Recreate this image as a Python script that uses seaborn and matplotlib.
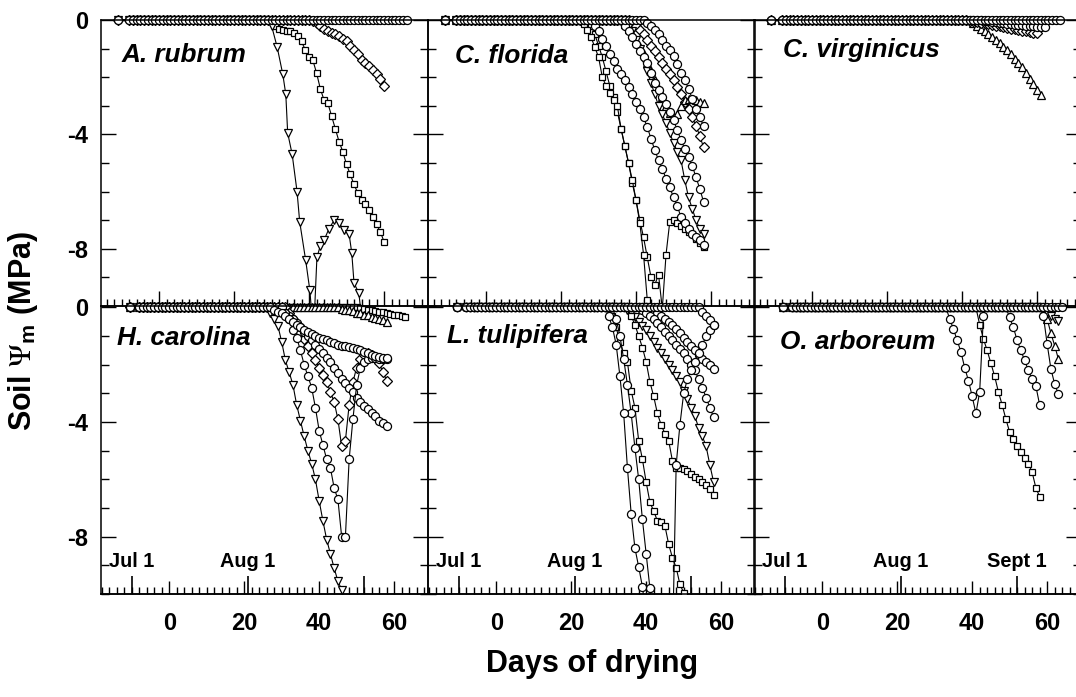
import matplotlib
matplotlib.use("Agg")
import matplotlib.pyplot as plt
import seaborn as sns
from matplotlib.ticker import FixedLocator, MultipleLocator
from matplotlib.transforms import Bbox, TransformedBbox

# ---------------- data (days of drying, soil water potential in MPa) ----------------
SPECIES = ["A. rubrum", "C. florida", "C. virginicus",
           "H. carolina", "L. tulipifera", "O. arboreum"]
X_TICKS = [0, 20, 40, 60]
X_TICK_LABELS = ["0", "20", "40", "60"]
Y_TICKS = [0, -4, -8]
Y_TICK_LABELS = ["0", "-4", "-8"]
DATE_LABELS = ["Jul 1", "Aug 1", "Sept 1"]
DATE_DAYS = [-10, 21, 52]

# --- A. rubrum (top row) ---
RUB_CIRC_END = 66
RUB_DIAM_ONSET = 40
RUB_DIAM_DAYS = list(range(41, 61))
RUB_DIAM_VALS = [-0.05, -0.1, -0.2, -0.3, -0.4, -0.45, -0.5, -0.55, -0.65, -0.75,
                 -0.9, -1.05, -1.2, -1.4, -1.5, -1.6, -1.75, -1.9, -2.05, -2.3]
RUB_SQ_ONSET = 30
RUB_SQ_DAYS = list(range(31, 61))
RUB_SQ_VALS = [-0.2, -0.3, -0.35, -0.37, -0.4, -0.45, -0.55, -0.75, -1.05, -1.3,
               -1.4, -1.85, -2.4, -2.8, -2.9, -3.35, -3.8, -4.25, -4.6, -5.05,
               -5.4, -5.75, -6.05, -6.3, -6.45, -6.65, -6.9, -7.15, -7.4, -7.75]
RUB_TRI_ONSET = 29
RUB_TRI_DAYS = [30, 31.5, 33, 33.8, 34.3, 35.5, 36.8, 37.5, 39.1, 40.2, 41.2, 42.1,
                43.0, 44.0, 45.3, 46.7, 48.0, 49.3, 50.7, 51.4, 52.0, 53.3, 54.3]
RUB_TRI_VALS = [-0.2, -0.95, -1.9, -2.6, -3.95, -4.7, -6.0, -7.05, -8.4, -9.44, -11.0, -8.3,
                -7.9, -7.7, -7.3, -7.0, -7.1, -7.35, -7.5, -8.15, -9.2, -9.55, -10.8]

# --- C. florida (top row) ---
CFL_SQA_ONSET = 25
CFL_SQA_DAYS = list(range(26, 45))
CFL_SQA_VALS = [-0.15, -0.35, -0.6, -0.95, -1.3, -2.0, -2.3, -2.55, -2.8, -3.0,
                -3.8, -4.4, -5.0, -5.6, -6.3, -7.1, -8.2, -9.8, -11.5]
CFL_SQB_ONSET = 27
CFL_SQB_DAYS = list(range(28, 59))
CFL_SQB_VALS = [-0.2, -0.5, -0.9, -1.3, -1.8, -2.3, -2.7, -3.2, -3.8, -4.4, -5.0,
                -5.7, -6.3, -7.0, -7.6, -8.3, -9.0, -9.26, -8.9, -10.1, -8.2, -7.05,
                -7.0, -7.1, -7.2, -7.3, -7.4, -7.5, -7.65, -7.8, -7.95]
CFL_CA_ONSET = 28
CFL_CA_DAYS = list(range(29, 59))
CFL_CA_VALS = [-0.2, -0.4, -0.65, -0.9, -1.2, -1.45, -1.7, -1.9, -2.1, -2.35, -2.6,
               -2.85, -3.1, -3.4, -3.75, -4.15, -4.55, -4.9, -5.2, -5.55, -5.85, -6.2,
               -6.5, -6.9, -7.1, -7.3, -7.5, -7.6, -7.7, -7.85]
CFL_CB_ONSET = 36
CFL_CB_DAYS = list(range(37, 59))
CFL_CB_VALS = [-0.2, -0.4, -0.6, -0.85, -1.1, -1.3, -1.5, -1.85, -2.2, -2.45, -2.7,
               -2.95, -3.2, -3.5, -3.85, -4.2, -4.5, -4.8, -5.1, -5.5, -5.9, -6.35]
CFL_CC_ONSET = 42
CFL_CC_DAYS = list(range(43, 59))
CFL_CC_VALS = [-0.1, -0.2, -0.35, -0.5, -0.7, -0.9, -1.05, -1.25, -1.55, -1.85,
               -2.1, -2.4, -2.75, -3.1, -3.4, -3.7]
CFL_DM_ONSET = 38
CFL_DM_DAYS = list(range(39, 59))
CFL_DM_VALS = [-0.1, -0.2, -0.35, -0.5, -0.7, -0.9, -1.1, -1.3, -1.5, -1.7, -1.9,
               -2.1, -2.35, -2.6, -2.85, -3.1, -3.4, -3.7, -4.05, -4.45]
CFL_TU_ONSET = 36
CFL_TU_DAYS = list(range(37, 59))
CFL_TU_VALS = [-0.15, -0.3, -0.5, -0.7, -0.95, -1.2, -1.5, -1.8, -2.1, -2.4, -2.7,
               -3.0, -3.25, -3.4, -3.3, -3.0, -2.8, -2.75, -2.75, -2.8, -2.85, -2.9]
CFL_TD_ONSET = 37
CFL_TD_DAYS = list(range(38, 59))
CFL_TD_VALS = [-0.2, -0.4, -0.7, -1.0, -1.4, -1.8, -2.2, -2.6, -3.0, -3.3, -3.6,
               -3.95, -4.3, -4.6, -4.9, -5.6, -6.2, -6.6, -7.0, -7.3, -7.5]

# --- C. virginicus (top row) ---
CVI_CIRC_END = 66
CVI_SQ_END = 65
CVI_C2_ONSET = 45
CVI_C2_DAYS = list(range(46, 63))
CVI_C2_VALS = [-0.02, -0.04, -0.06, -0.08, -0.1, -0.12, -0.13, -0.15, -0.16, -0.18,
               -0.19, -0.2, -0.21, -0.22, -0.23, -0.24, -0.25]
CVI_DM_ONSET = 41
CVI_DM_DAYS = list(range(42, 61))
CVI_DM_VALS = [-0.03, -0.05, -0.08, -0.1, -0.12, -0.15, -0.18, -0.2, -0.22, -0.25,
               -0.28, -0.3, -0.32, -0.35, -0.37, -0.4, -0.42, -0.45, -0.47]
CVI_TU_ONSET = 42
CVI_TU_DAYS = list(range(43, 62))
CVI_TU_VALS = [-0.1, -0.2, -0.3, -0.4, -0.5, -0.6, -0.7, -0.8, -0.95, -1.05, -1.2,
               -1.35, -1.5, -1.65, -1.85, -2.05, -2.25, -2.45, -2.62]

# --- H. carolina (bottom row) ---
HCA_SQ_ONSET = 50
HCA_SQ_DAYS = list(range(51, 64))
HCA_SQ_VALS = [-0.03, -0.05, -0.08, -0.1, -0.12, -0.15, -0.17, -0.2, -0.22, -0.25,
               -0.28, -0.3, -0.34]
HCA_TU_ONSET = 45
HCA_TU_DAYS = list(range(46, 59))
HCA_TU_VALS = [-0.05, -0.08, -0.1, -0.14, -0.18, -0.2, -0.25, -0.28, -0.32, -0.36,
               -0.4, -0.45, -0.51]
HCA_TD_ONSET = 26
HCA_TD_DAYS = list(range(27, 48))
HCA_TD_VALS = [-0.2, -0.4, -0.65, -1.2, -1.85, -2.26, -2.7, -3.4, -3.95, -4.5, -5.0,
               -5.45, -6.0, -6.75, -7.45, -8.1, -8.6, -9.1, -9.55, -9.85, -10.5]
HCA_CA_ONSET = 30
HCA_CA_DAYS = list(range(31, 59))
HCA_CA_VALS = [-0.2, -0.4, -0.8, -1.05, -1.5, -2.0, -2.4, -2.8, -3.5, -4.3, -4.8,
               -5.3, -5.6, -6.3, -6.7, -8.0, -8.0, -5.3, -3.9, -2.7, -2.1, -1.9,
               -1.8, -1.75, -1.75, -1.8, -1.8, -1.8]
HCA_DM_ONSET = 31
HCA_DM_DAYS = list(range(32, 59))
HCA_DM_VALS = [-0.2, -0.4, -0.6, -0.85, -1.1, -1.35, -1.6, -1.85, -2.1, -2.35, -2.6,
               -2.95, -3.3, -3.9, -4.85, -4.65, -3.4, -2.6, -2.1, -1.8, -1.65, -1.6,
               -1.65, -1.75, -1.95, -2.25, -2.55]
HCA_CB_ONSET = 29
HCA_CB_DAYS = list(range(30, 59))
HCA_CB_VALS = [-0.1, -0.2, -0.3, -0.4, -0.55, -0.7, -0.85, -1.0, -1.15, -1.3, -1.45,
               -1.6, -1.75, -1.9, -2.1, -2.3, -2.5, -2.65, -2.8, -2.95, -3.15, -3.3,
               -3.45, -3.55, -3.7, -3.8, -3.95, -4.05, -4.15]
HCA_CC_ONSET = 27
HCA_CC_DAYS = list(range(28, 59))
HCA_CC_VALS = [-0.1, -0.15, -0.2, -0.3, -0.4, -0.5, -0.6, -0.7, -0.8, -0.85, -0.92,
               -1.0, -1.05, -1.1, -1.15, -1.2, -1.25, -1.3, -1.33, -1.36, -1.38, -1.4,
               -1.45, -1.5, -1.55, -1.6, -1.65, -1.7, -1.72, -1.75, -1.78]

# --- L. tulipifera (bottom row) ---
LTU_C0_ONSET = 54
LTU_C0_DAYS = [55, 56, 57, 58]
LTU_C0_VALS = [-0.15, -0.3, -0.45, -0.63]
LTU_C1_ONSET = 29
LTU_C1_DAYS = list(range(30, 41))
LTU_C1_VALS = [-0.3, -0.69, -1.3, -2.4, -3.7, -5.6, -7.2, -8.4, -9.05, -9.75, -10.8]
LTU_SQ1_ONSET = 30
LTU_SQ1_DAYS = list(range(31, 52))
LTU_SQ1_VALS = [-0.3, -0.7, -1.2, -1.6, -1.9, -2.9, -3.5, -4.65, -5.3, -6.1, -6.8,
                -7.1, -7.45, -7.5, -7.62, -8.26, -8.73, -9.08, -9.66, -9.95, -10.8]
LTU_C2_ONSET = 31
LTU_C2_DAYS = list(range(32, 43)) + list(range(47, 59))
LTU_C2_VALS = [-0.4, -1.0, -1.8, -2.7, -3.7, -4.9, -6.0, -7.4, -8.6, -9.8, -11.0,
               -12.0, -5.5, -4.1, -3.0, -2.5, -2.2, -1.9, -1.6, -1.3, -1.0, -0.8, -0.63]
LTU_SQ2_ONSET = 35
LTU_SQ2_DAYS = list(range(36, 59))
LTU_SQ2_VALS = [-0.3, -0.6, -1.0, -1.4, -1.9, -2.6, -3.1, -3.7, -4.1, -4.4, -4.65,
                -5.35, -5.6, -5.6, -5.65, -5.7, -5.8, -5.9, -6.0, -6.1, -6.2, -6.35, -6.55]
LTU_TD_ONSET = 34
LTU_TD_DAYS = list(range(35, 59))
LTU_TD_VALS = [-0.1, -0.2, -0.35, -0.5, -0.65, -0.8, -1.0, -1.2, -1.4, -1.6, -1.8,
               -2.0, -2.2, -2.4, -2.6, -2.9, -3.2, -3.5, -3.8, -4.2, -4.5, -4.85, -5.5, -6.1]
LTU_C3_ONSET = 38
LTU_C3_DAYS = list(range(39, 59))
LTU_C3_VALS = [-0.1, -0.2, -0.3, -0.4, -0.55, -0.7, -0.85, -1.0, -1.15, -1.3, -1.45,
               -1.6, -1.8, -2.0, -2.2, -2.5, -2.8, -3.15, -3.5, -3.83]
LTU_C4_ONSET = 41
LTU_C4_DAYS = list(range(42, 59))
LTU_C4_VALS = [-0.1, -0.2, -0.3, -0.4, -0.5, -0.6, -0.75, -0.9, -1.05, -1.2, -1.35,
               -1.5, -1.65, -1.8, -1.9, -2.0, -2.14]

# --- O. arboreum (bottom row) ---
OAR_C0_END = 64
OAR_SQ0_END = 64
OAR_C1_ONSET = 33
OAR_C1_DAYS = list(range(34, 44))
OAR_C1_VALS = [-0.4, -0.75, -1.15, -1.55, -2.1, -2.55, -3.1, -3.7, -2.95, -0.3]
OAR_SQ_ONSET = 41
OAR_SQ_DAYS = list(range(42, 59))
OAR_SQ_VALS = [-0.6, -1.1, -1.5, -1.95, -2.4, -2.95, -3.4, -3.9, -4.35, -4.6, -4.85,
               -5.05, -5.25, -5.45, -5.75, -6.3, -6.6]
OAR_C2_ONSET = 49
OAR_C2_DAYS = list(range(50, 59))
OAR_C2_VALS = [-0.35, -0.7, -1.15, -1.5, -1.85, -2.2, -2.5, -2.75, -3.4]
OAR_C3_ONSET = 58
OAR_C3_DAYS = [59, 60, 61, 62, 63]
OAR_C3_VALS = [-0.3, -1.27, -2.14, -2.67, -3.02]
OAR_TU_ONSET = 59
OAR_TU_DAYS = [60, 61, 62, 63]
OAR_TU_VALS = [-0.4, -0.9, -1.33, -1.8]
OAR_TD_ONSET = 58
OAR_TD_DAYS = [59, 60, 61, 62, 63]
OAR_TD_VALS = [-0.1, -0.2, -0.3, -0.4, -0.47]

TOP_FIRST_DAY = -11
BOT_FIRST_DAY = -10.5
DENSE_START = -8


def build(first, onset, days=(), vals=()):
    """Readings: one lone early reading, daily zero readings up to onset, then the decline."""
    x = [first] + list(range(DENSE_START, onset + 1)) + list(days)
    y = [0.0] * (len(x) - len(days)) + list(vals)
    return x, y


T, B = TOP_FIRST_DAY, BOT_FIRST_DAY
PANELS = [
    [(build(T, RUB_DIAM_ONSET, RUB_DIAM_DAYS, RUB_DIAM_VALS), "D"),
     (build(T, RUB_SQ_ONSET, RUB_SQ_DAYS, RUB_SQ_VALS), "s"),
     (build(T, RUB_TRI_ONSET, RUB_TRI_DAYS, RUB_TRI_VALS), "v"),
     (build(T, RUB_CIRC_END), "o")],
    [(build(T, CFL_DM_ONSET, CFL_DM_DAYS, CFL_DM_VALS), "D"),
     (build(T, CFL_TU_ONSET, CFL_TU_DAYS, CFL_TU_VALS), "^"),
     (build(T, CFL_TD_ONSET, CFL_TD_DAYS, CFL_TD_VALS), "v"),
     (build(T, CFL_SQB_ONSET, CFL_SQB_DAYS, CFL_SQB_VALS), "s"),
     (build(T, CFL_SQA_ONSET, CFL_SQA_DAYS, CFL_SQA_VALS), "s"),
     (build(T, CFL_CB_ONSET, CFL_CB_DAYS, CFL_CB_VALS), "o"),
     (build(T, CFL_CA_ONSET, CFL_CA_DAYS, CFL_CA_VALS), "o"),
     (build(T, CFL_CC_ONSET, CFL_CC_DAYS, CFL_CC_VALS), "o")],
    [(build(T, CVI_TU_ONSET, CVI_TU_DAYS, CVI_TU_VALS), "^"),
     (build(T, CVI_DM_ONSET, CVI_DM_DAYS, CVI_DM_VALS), "D"),
     (build(T, CVI_C2_ONSET, CVI_C2_DAYS, CVI_C2_VALS), "o"),
     (build(T, CVI_SQ_END), "s"),
     (build(T, CVI_CIRC_END), "o")],
    [(build(B, HCA_SQ_ONSET, HCA_SQ_DAYS, HCA_SQ_VALS), "s"),
     (build(B, HCA_TU_ONSET, HCA_TU_DAYS, HCA_TU_VALS), "^"),
     (build(B, HCA_DM_ONSET, HCA_DM_DAYS, HCA_DM_VALS), "D"),
     (build(B, HCA_TD_ONSET, HCA_TD_DAYS, HCA_TD_VALS), "v"),
     (build(B, HCA_CB_ONSET, HCA_CB_DAYS, HCA_CB_VALS), "o"),
     (build(B, HCA_CA_ONSET, HCA_CA_DAYS, HCA_CA_VALS), "o"),
     (build(B, HCA_CC_ONSET, HCA_CC_DAYS, HCA_CC_VALS), "o")],
    [(build(B, LTU_TD_ONSET, LTU_TD_DAYS, LTU_TD_VALS), "v"),
     (build(B, LTU_SQ2_ONSET, LTU_SQ2_DAYS, LTU_SQ2_VALS), "s"),
     (build(B, LTU_SQ1_ONSET, LTU_SQ1_DAYS, LTU_SQ1_VALS), "s"),
     (build(B, LTU_C4_ONSET, LTU_C4_DAYS, LTU_C4_VALS), "o"),
     (build(B, LTU_C3_ONSET, LTU_C3_DAYS, LTU_C3_VALS), "o"),
     (build(B, LTU_C2_ONSET, LTU_C2_DAYS, LTU_C2_VALS), "o"),
     (build(B, LTU_C1_ONSET, LTU_C1_DAYS, LTU_C1_VALS), "o"),
     (build(B, LTU_C0_ONSET, LTU_C0_DAYS, LTU_C0_VALS), "o")],
    [(build(B, OAR_TD_ONSET, OAR_TD_DAYS, OAR_TD_VALS), "v"),
     (build(B, OAR_TU_ONSET, OAR_TU_DAYS, OAR_TU_VALS), "^"),
     (build(B, OAR_SQ_ONSET, OAR_SQ_DAYS, OAR_SQ_VALS), "s"),
     (build(B, OAR_SQ0_END), "s"),
     (build(B, OAR_C3_ONSET, OAR_C3_DAYS, OAR_C3_VALS), "o"),
     (build(B, OAR_C2_ONSET, OAR_C2_DAYS, OAR_C2_VALS), "o"),
     (build(B, OAR_C1_ONSET, OAR_C1_DAYS, OAR_C1_VALS), "o"),
     (build(B, OAR_C0_END), "o")],
]

# ---------------- style ----------------
sns.set_theme(style="white", rc={
    "axes.edgecolor": "black", "axes.linewidth": 1.1,
    "xtick.color": "black", "ytick.color": "black", "text.color": "black",
    "axes.labelcolor": "black",
})
plt.rcParams["font.family"] = ["Liberation Sans", "DejaVu Sans"]
plt.rcParams["mathtext.fontset"] = "stix"

MARKER_SIZE = {"o": 5.8, "s": 5.0, "v": 6.0, "^": 6.0, "D": 4.6}

W, H = 1076, 697
fig = plt.figure(figsize=(W / 100, H / 100), dpi=100)

COL_LEFT = [101, 428, 754]
COL_W = 326.5
ROWS = [(20, 306), (306, 594)]          # pixel top / bottom of each row
XLIMS = [(-15.5, 71.6), (-18.2, 68.9)]
YLIMS = [(-10, 0), (-10, 0.05)]
LABEL_POS = [(0.064, 0.852), (0.083, 0.850), (0.090, 0.870),
             (0.048, 0.865), (0.057, 0.870), (0.080, 0.850)]

for i, series in enumerate(PANELS):
    r, c = divmod(i, 3)
    top, bot = ROWS[r]
    ax = fig.add_axes([COL_LEFT[c] / W, (H - bot) / H, COL_W / W, (bot - top) / H])
    ax.set_facecolor("none")
    for (x, y), m in series:
        sns.lineplot(x=x, y=y, ax=ax, estimator=None, sort=False, color="black",
                     linewidth=0.8, marker=m, markersize=MARKER_SIZE[m],
                     markerfacecolor="white", markeredgecolor="black",
                     markeredgewidth=0.9)
    clip = TransformedBbox(Bbox([[0, 0], [1, 1.035]]), ax.transAxes)
    for ln in ax.lines:
        ln.set_clip_box(clip)

    ax.set_xlim(*XLIMS[r])
    ax.set_ylim(*YLIMS[r])
    ax.set_xlabel("")
    ax.set_ylabel("")

    # y axis
    ax.yaxis.set_major_locator(FixedLocator(Y_TICKS))
    ax.yaxis.set_minor_locator(MultipleLocator(1))
    ax.tick_params(axis="y", which="major", direction="in", length=10.8, width=1.0,
                   left=True, right=True, labelleft=(c == 0), pad=9, labelsize=17)
    ax.tick_params(axis="y", which="minor", direction="in", length=5.8, width=1.0,
                   left=True, right=True)
    if c == 0:
        ax.set_yticklabels(Y_TICK_LABELS, fontweight="bold")

    # x axis
    ax.xaxis.set_major_locator(FixedLocator(X_TICKS))
    ax.xaxis.set_minor_locator(MultipleLocator(2))
    if r == 0:
        ax.tick_params(axis="x", which="major", direction="in", length=10.8, width=1.0,
                       bottom=True, top=False, labelbottom=False)
        ax.tick_params(axis="x", which="minor", direction="in", length=5, width=1.0,
                       bottom=True, top=False)
    else:
        ax.tick_params(axis="x", which="major", direction="in", length=9.4, width=1.0,
                       bottom=True, top=False, labelbottom=True, pad=13, labelsize=17)
        ax.tick_params(axis="x", which="minor", direction="in", length=5, width=1.0,
                       bottom=True, top=False)
        ax.set_xticklabels(X_TICK_LABELS, fontweight="bold")
        sec = ax.secondary_xaxis("bottom")
        sec.set_xticks(DATE_DAYS)
        sec.tick_params(axis="x", direction="in", length=13, width=1.2, labelbottom=False)
        n_dates = 3 if c == 2 else 2
        for lab, d in zip(DATE_LABELS[:n_dates], DATE_DAYS[:n_dates]):
            ax.text(d, -9.05, lab, ha="center", va="baseline", fontsize=14.3,
                    fontweight="bold")

    for s in ax.spines.values():
        s.set_linewidth(1.1)
        s.set_color("black")

    lx, ly = LABEL_POS[i]
    ax.text(lx, ly, SPECIES[i], transform=ax.transAxes, ha="left", va="baseline",
            fontsize=18.8, fontweight="bold", fontstyle="italic")

fig.text(0.021, 0.525, r"Soil $\Psi_{\mathregular{m}}$ (MPa)", rotation=90,
         ha="center", va="center", fontsize=22, fontweight="bold")
fig.text(0.55, 0.047, "Days of drying", ha="center", va="center",
         fontsize=22, fontweight="bold")

fig.savefig("out.png", dpi=100, facecolor="white")
